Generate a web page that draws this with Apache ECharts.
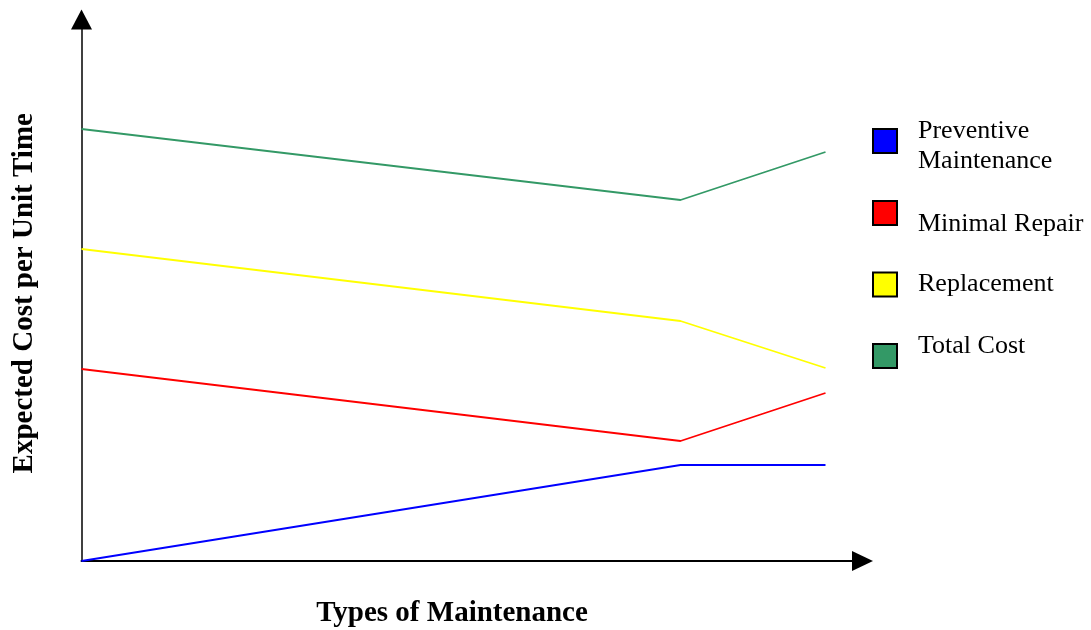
<!DOCTYPE html>
<html>
<head>
<meta charset="utf-8">
<script src="https://cdn.jsdelivr.net/npm/echarts@6/dist/echarts.min.js"></script>
<style>
  html, body { margin: 0; padding: 0; background: #fff; }
  #chart { width: 1091px; height: 630px; }
</style>
</head>
<body>
<div id="chart"></div>
<script>
// position along the maintenance axis (no tick labels in the original)
const typePos = [0, 599, 744];

const seriesNames = ['Preventive Maintenance', 'Minimal Repair', 'Replacement', 'Total Cost'];
const legendLabels = ['Preventive\nMaintenance', 'Minimal Repair', 'Replacement', 'Total Cost'];
const preventive = [0, 96, 96];
const minimalRepair = [192, 120, 168];
const replacement = [312, 240, 193];
const totalCost = [432, 361, 409];

const colors = ['#0000ff', '#ff0000', '#ffff00', '#339966'];

const chart = echarts.init(document.getElementById('chart'));
const font = 'Liberation Serif, Times New Roman, serif';

function pairs(vals) {
  return vals.map((v, i) => [typePos[i], v]);
}

// 每个图例单独一个组件，文字上下偏移用空行（rich）实现
function legendFor(idx, top, above, below) {
  return {
    data: [seriesNames[idx]],
    orient: 'vertical',
    left: 872,
    top: top,
    padding: 0,
    icon: 'rect',
    itemWidth: 24,
    itemHeight: 24,
    itemStyle: { borderColor: '#000', borderWidth: 2 },
    lineStyle: { width: 0, opacity: 0 },
    selectedMode: false,
    formatter: () => {
      let lines = legendLabels[idx].split('\n').map(l => '{t|' + l + '}');
      if (above) lines.unshift('{a| }');
      if (below) lines.push('{b| }');
      return lines.join('\n');
    },
    textStyle: {
      padding: [0, 0, 0, 16],
      rich: {
        t: { fontFamily: font, fontSize: 26, lineHeight: 30, color: '#000' },
        a: { fontSize: 1, lineHeight: above || 1, height: above || 1 },
        b: { fontSize: 1, lineHeight: below || 1, height: below || 1 }
      }
    }
  };
}

const option = {
  animation: false,
  backgroundColor: '#fff',
  color: colors,
  grid: {
    left: 81.5,
    right: 228.5,
    top: 19.5,
    bottom: 69,
    containLabel: false,
    outerBoundsMode: 'none'
  },
  legend: [
    legendFor(0, 106, 10, 0),
    legendFor(1, 187, 22, 0),
    legendFor(2, 267, 2, 3),
    legendFor(3, 329, 2, 22)
  ],
  xAxis: {
    type: 'value',
    min: 0,
    max: 781,
    name: 'Types of Maintenance',
    nameLocation: 'middle',
    nameGap: 38,
    nameTextStyle: {
      fontFamily: font,
      fontSize: 29,
      fontWeight: 'bold',
      color: '#000',
      padding: [0, 40, 0, 0]
    },
    axisLine: {
      lineStyle: { color: '#000', width: 2 },
      symbol: ['none', 'triangle'],
      symbolSize: [20, 21]
    },
    axisTick: { show: false },
    axisLabel: { show: false },
    splitLine: { show: false }
  },
  yAxis: {
    type: 'value',
    min: 0,
    max: 541.5,
    name: 'Expected Cost per Unit Time',
    nameLocation: 'middle',
    nameRotate: 90,
    nameGap: 42,
    nameTextStyle: {
      fontFamily: font,
      fontSize: 29,
      fontWeight: 'bold',
      color: '#000',
      padding: [0, 6, 0, 0]
    },
    axisLine: {
      show: true,
      lineStyle: { color: '#000', width: 1.5 },
      symbol: ['none', 'triangle'],
      symbolSize: [21, 20]
    },
    axisTick: { show: false },
    axisLabel: { show: false },
    splitLine: { show: false }
  },
  series: [
    { name: seriesNames[0], type: 'line', data: pairs(preventive) },
    { name: seriesNames[1], type: 'line', data: pairs(minimalRepair) },
    { name: seriesNames[2], type: 'line', data: pairs(replacement) },
    { name: seriesNames[3], type: 'line', data: pairs(totalCost) }
  ].map((s, i) => Object.assign(s, {
    showSymbol: false,
    symbol: 'none',
    lineStyle: { width: 1.8, color: colors[i] },
    itemStyle: { color: colors[i] }
  }))
};

chart.setOption(option);
</script>
</body>
</html>
